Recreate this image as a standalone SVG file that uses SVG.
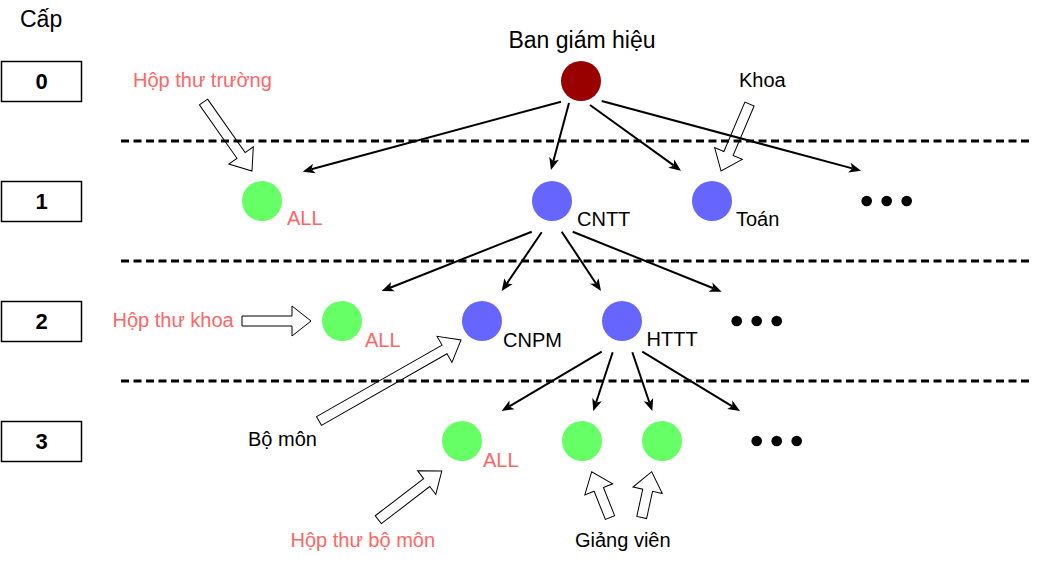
<svg xmlns="http://www.w3.org/2000/svg" width="1045" height="563" viewBox="0 0 1045 563">
<style>
text{font-family:"Liberation Sans",Arial,sans-serif;font-size:20px;fill:#000}
.red{fill:#FF6666}
.big{font-size:23px}
.lvl{font-size:22px;font-weight:bold;text-anchor:middle}
.box{fill:#fff;stroke:#000;stroke-width:1.5}
.dash{stroke:#000;stroke-width:3;stroke-dasharray:8 4.5;fill:none}
.con{stroke:#000;stroke-width:2;fill:none;marker-end:url(#ah)}
.blk{fill:#fff;stroke:#000;stroke-width:1}
.g{fill:#66FF66}.b{fill:#6666FF}.r{fill:#990000}
</style>
<defs>
<marker id="ah" markerUnits="userSpaceOnUse" markerWidth="12" markerHeight="10" refX="3" refY="5" orient="auto" overflow="visible">
<path d="M0,0 L12,5 L0,10 L3,5 Z" fill="#000"/>
</marker>
</defs>
<rect width="1045" height="563" fill="#fff"/>
<g id="levels">
<text x="20" y="27" class="big">Cấp</text>
<rect class="box" x="1.5" y="61.5" width="80" height="40"/><text class="lvl" x="41.5" y="89">0</text>
<rect class="box" x="1.5" y="181.5" width="80" height="40"/><text class="lvl" x="41.5" y="209">1</text>
<rect class="box" x="1.5" y="301.5" width="80" height="40"/><text class="lvl" x="41.5" y="329">2</text>
<rect class="box" x="1.5" y="421.5" width="80" height="40"/><text class="lvl" x="41.5" y="449">3</text>
</g>
<g id="block-arrows">
<polygon class="blk" transform="translate(203.5,102) rotate(54.9)" points="0,-5 65.3,-5 65.3,-15 84.3,0 65.3,15 65.3,5 0,5"/>
<polygon class="blk" transform="translate(749.5,104) rotate(113)" points="0,-5 53.8,-5 53.8,-15 72.8,0 53.8,15 53.8,5 0,5"/>
<polygon class="blk" transform="translate(242,321)" points="0,-5 50,-5 50,-15 69,0 50,15 50,5 0,5"/>
<polygon class="blk" transform="translate(319,421) rotate(-29.7)" points="0,-5 144.5,-5 144.5,-15 163.5,0 144.5,15 144.5,5 0,5"/>
<polygon class="blk" transform="translate(378.3,519.7) rotate(-37.5)" points="0,-5 61,-5 61,-15 80,0 61,15 61,5 0,5"/>
<polygon class="blk" transform="translate(610,517.5) rotate(-111.8)" points="0,-5 30.3,-5 30.3,-15 49.3,0 30.3,15 30.3,5 0,5"/>
<polygon class="blk" transform="translate(641.7,517.5) rotate(-77.7)" points="0,-5 27.9,-5 27.9,-15 46.9,0 27.9,15 27.9,5 0,5"/>
</g>
<g id="separators">
<line class="dash" x1="121" y1="141" x2="1031" y2="141"/>
<line class="dash" x1="121" y1="261" x2="1031" y2="261"/>
<line class="dash" x1="121" y1="381" x2="1031" y2="381"/>
</g>
<g id="connectors">
<line class="con" x1="561" y1="101.7" x2="311.4" y2="169.3"/>
<line class="con" x1="569" y1="103" x2="553.3" y2="161.3"/>
<line class="con" x1="590" y1="105" x2="673.7" y2="165.4"/>
<line class="con" x1="601.7" y1="101" x2="852.3" y2="168.4"/>
<line class="con" x1="531.7" y1="231.7" x2="390.1" y2="287.7"/>
<line class="con" x1="541.7" y1="232.3" x2="506.8" y2="283.6"/>
<line class="con" x1="561.7" y1="231.7" x2="596" y2="283.5"/>
<line class="con" x1="572.7" y1="231.7" x2="713.3" y2="288.3"/>
<line class="con" x1="601.7" y1="351.7" x2="509.4" y2="406.4"/>
<line class="con" x1="612.7" y1="352.3" x2="596.1" y2="402.5"/>
<line class="con" x1="632.3" y1="352.3" x2="649.4" y2="402.5"/>
<line class="con" x1="642.3" y1="351.7" x2="732.3" y2="406.3"/>
</g>
<g id="node-bgh"><circle class="r" cx="581" cy="81" r="20"/><text x="582" y="48" class="big" text-anchor="middle">Ban giám hiệu</text></g>
<g id="node-all1"><circle class="g" cx="262" cy="201" r="20"/><text x="287" y="225" class="red">ALL</text></g>
<g id="node-cntt"><circle class="b" cx="552" cy="201" r="20"/><text x="577" y="226">CNTT</text></g>
<g id="node-toan"><circle class="b" cx="712" cy="201" r="20"/><text x="736" y="226">Toán</text></g>
<g id="node-more1"><circle cx="866.7" cy="201" r="5.3"/><circle cx="886.7" cy="201" r="5.3"/><circle cx="906.7" cy="201" r="5.3"/></g>
<g id="node-all2"><circle class="g" cx="342" cy="321" r="20"/><text x="365" y="346.5" class="red">ALL</text></g>
<g id="node-cnpm"><circle class="b" cx="482" cy="321" r="20"/><text x="503" y="347">CNPM</text></g>
<g id="node-httt"><circle class="b" cx="622" cy="321" r="20"/><text x="646.5" y="346">HTTT</text></g>
<g id="node-more2"><circle cx="736.7" cy="321" r="5.3"/><circle cx="756.7" cy="321" r="5.3"/><circle cx="776.7" cy="321" r="5.3"/></g>
<g id="node-all3"><circle class="g" cx="462" cy="441" r="20"/><text x="483" y="466.5" class="red">ALL</text></g>
<g id="node-gv1"><circle class="g" cx="582" cy="441" r="20"/></g>
<g id="node-gv2"><circle class="g" cx="662" cy="441" r="20"/></g>
<g id="node-more3"><circle cx="756.7" cy="441" r="5.3"/><circle cx="776.7" cy="441" r="5.3"/><circle cx="796.7" cy="441" r="5.3"/></g>
<g id="labels">
<text x="133" y="87" class="red">Hộp thư trường</text>
<text x="739" y="87">Khoa</text>
<text x="112.5" y="326.5" class="red">Hộp thư khoa</text>
<text x="248" y="446">Bộ môn</text>
<text x="290.5" y="546.5" class="red">Hộp thư bộ môn</text>
<text x="575" y="546.5">Giảng viên</text>
</g>
</svg>
